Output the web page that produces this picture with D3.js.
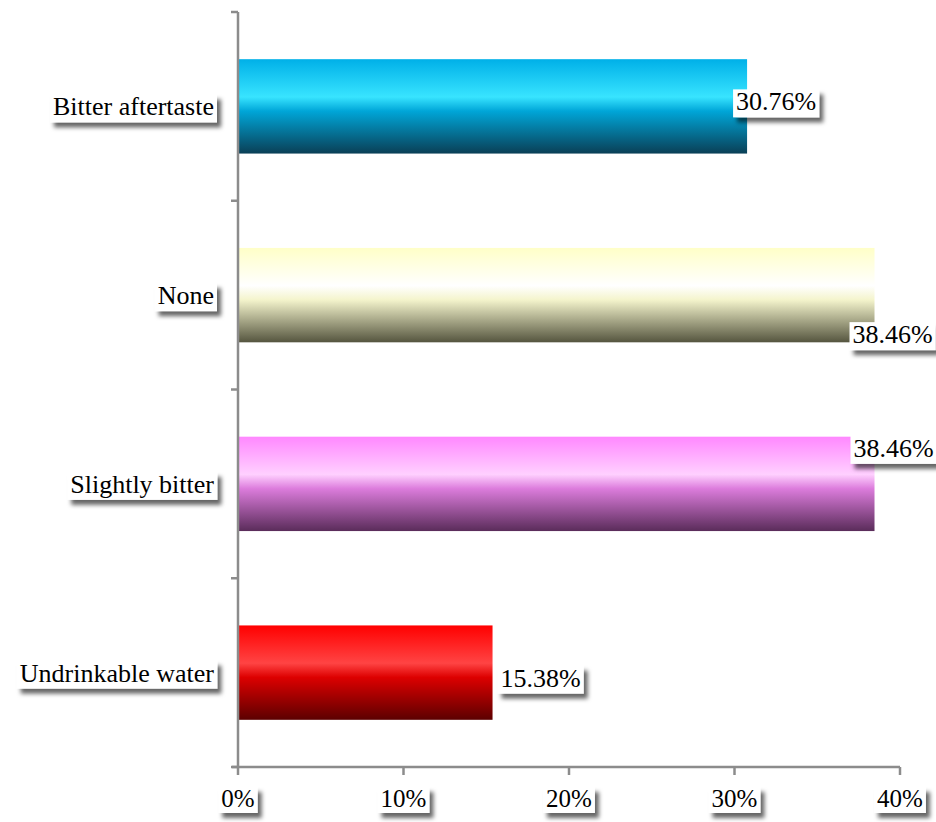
<!DOCTYPE html>
<html><head><meta charset="utf-8">
<script src="https://cdn.jsdelivr.net/npm/d3@7"></script>
<style>body{margin:0;background:#fff}svg{display:block}</style>
</head><body>
<svg id="c" width="936" height="822"></svg>
<script>
const categories = ["Bitter aftertaste", "None", "Slightly bitter", "Undrinkable water"];
const values = [30.76, 38.46, 38.46, 15.38];
const valueLabels = ["30.76%", "38.46%", "38.46%", "15.38%"];
const xTicks = [0, 10, 20, 30, 40];
const barGradients = [
  ["#00b0e8", "#38e4ff", "#00a6d8", "#0a3f56"],
  ["#ffffc8", "#ffffff", "#f4f4cc", "#55553f"],
  ["#ff88ff", "#ffd0ff", "#dc7cdc", "#5a2c5a"],
  ["#ff0000", "#ff4444", "#dd0000", "#5c0000"]
];

const svg = d3.select("#c");
const defs = svg.append("defs");
const f = defs.append("filter").attr("id","sh").attr("x","-20%").attr("y","-30%").attr("width","150%").attr("height","180%");
f.append("feDropShadow").attr("dx",4).attr("dy",5).attr("stdDeviation",2.2).attr("flood-color","#000").attr("flood-opacity",0.6);

barGradients.forEach((g,i)=>{
  const lg = defs.append("linearGradient").attr("id","g"+i).attr("x1",0).attr("y1",0).attr("x2",0).attr("y2",1);
  [[0,g[0]],[0.4,g[1]],[0.55,g[2]],[1,g[3]]].forEach(([o,c])=>lg.append("stop").attr("offset",o).attr("stop-color",c));
});

const x = d3.scaleLinear().domain([0,40]).range([238,900]);
const y = d3.scaleBand().domain(categories).range([12,767]).paddingInner(0.5).paddingOuter(0.25);

const font = "'Liberation Serif','Times New Roman',serif";

// bars
svg.append("g").selectAll("rect").data(categories).join("rect")
  .attr("x", x(0)).attr("y", d=>y(d))
  .attr("width", (d,i)=>x(values[i])-x(0)).attr("height", y.bandwidth())
  .attr("fill", (d,i)=>`url(#g${i})`);

// axes
const axisColor = "#8c8c8c";
const step = y.step();
svg.append("line").attr("x1",x(0)).attr("x2",x(0)).attr("y1",12).attr("y2",767).attr("stroke",axisColor).attr("stroke-width",2.5);
svg.append("line").attr("x1",x(0)-6).attr("x2",x(40)).attr("y1",767).attr("y2",767).attr("stroke",axisColor).attr("stroke-width",2.5);
d3.range(categories.length+1).forEach(i=>{
  const yy = 12 + i*step;
  svg.append("line").attr("x1",x(0)-7).attr("x2",x(0)).attr("y1",yy).attr("y2",yy).attr("stroke",axisColor).attr("stroke-width",2.5);
});
xTicks.forEach(t=>{
  svg.append("line").attr("x1",x(t)).attr("x2",x(t)).attr("y1",767).attr("y2",775).attr("stroke",axisColor).attr("stroke-width",2.5);
});

function boxed(g, tx, ty, txt, anchor, size){
  const grp = g.append("g");
  const r = grp.append("rect").attr("fill","#fff").attr("filter","url(#sh)");
  const t = grp.append("text").attr("x",tx).attr("y",ty).attr("text-anchor",anchor)
    .attr("font-family",font).attr("font-size",size).attr("fill","#000").text(txt);
  const b = t.node().getBBox();
  r.attr("x",b.x-3).attr("y",b.y+2).attr("width",b.width+6).attr("height",b.height-1);
  return grp;
}
const lg = svg.append("g");
// category labels
categories.forEach(c=>{
  boxed(lg, 214, y(c)+y.bandwidth()/2+9, c, "end", 26);
});
// tick labels
xTicks.forEach(t=>{
  boxed(lg, x(t), 807, t+"%", "middle", 25);
});
// value labels (placement as in reference)
const offs = [[-11,4],[-22,48],[-21,-27],[8,14]];
categories.forEach((c,i)=>{
  boxed(lg, x(values[i])+offs[i][0], y(c)+y.bandwidth()/2+offs[i][1], valueLabels[i], "start", 26);
});
</script>
</body></html>
